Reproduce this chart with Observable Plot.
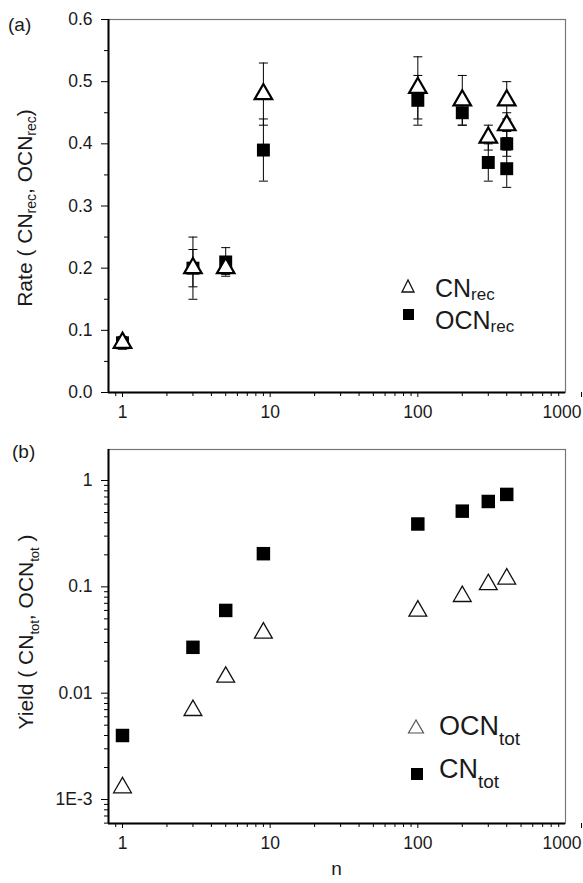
<!DOCTYPE html>
<html><head><meta charset="utf-8">
<script src="https://cdn.jsdelivr.net/npm/d3@7"></script>
<script src="https://cdn.jsdelivr.net/npm/@observablehq/plot@0.6"></script>
<style>
body{margin:0;background:#fff;}
#chart{width:583px;}
#chart svg{display:block;}
</style></head><body><div id="chart"></div>
<script>
// ---- Panel (a) data: rates ----
const nA = [1, 3, 5, 9, 100, 200, 300, 400, 400];
const cnRec = [0.08, 0.20, 0.20, 0.48, 0.49, 0.47, 0.41, 0.47, 0.43];
const cnRecErr = [0.01, 0.05, 0.01, 0.05, 0.05, 0.04, 0.02, 0.03, 0.02];
const ocnRec = [0.08, 0.20, 0.21, 0.39, 0.47, 0.45, 0.37, 0.40, 0.36];
const ocnRecErr = [0.01, 0.03, 0.023, 0.05, 0.04, 0.02, 0.03, 0.02, 0.03];

// ---- Panel (b) data: yields ----
const nB = [1, 3, 5, 9, 100, 200, 300, 400];
const ocnTot = [0.00135, 0.0072, 0.0148, 0.0385, 0.062, 0.085, 0.11, 0.124];
const cnTot = [0.0040, 0.027, 0.060, 0.205, 0.39, 0.515, 0.635, 0.74];

// ---- ticks ----
const xMajor = [1, 10, 100];
const xMajorLast = [1000];
const xMinor = [0.9, 2,3,4,5,6,7,8,9, 20,30,40,50,60,70,80,90, 200,300,400,500,600,700,800,900];
const yMajorA = [0, 0.1, 0.2, 0.3, 0.4, 0.5, 0.6];
const yMinorA = [0.05, 0.15, 0.25, 0.35, 0.45, 0.55];
const yMajorB = [0.001, 0.01, 0.1, 1];
const yMajorBLabels = ["1E-3", "0.01", "0.1", "1"];
const yMinorB = [0.0006,0.0007,0.0008,0.0009, 0.002,0.003,0.004,0.005,0.006,0.007,0.008,0.009,
  0.02,0.03,0.04,0.05,0.06,0.07,0.08,0.09, 0.2,0.3,0.4,0.5,0.6,0.7,0.8,0.9];

const rowsA = nA.map((n, i) => ({n, cn: cnRec[i], cnE: cnRecErr[i], ocn: ocnRec[i], ocnE: ocnRecErr[i]}));
const rowsB = nB.map((n, i) => ({n, ocn: ocnTot[i], cn: cnTot[i]}));

const FONT = "'Liberation Sans', Arial, Helvetica, sans-serif";
const W = 583;
const xDomain = [0.804, 1000];
const capSym = {draw(ctx) { ctx.moveTo(-4.5, 0); ctx.lineTo(4.5, 0); }};

function xAxes() {
  return [
    Plot.axisX(xMinor, {tickSize: 4, tickFormat: () => "", label: null, stroke: "black"}),
    Plot.axisX(xMajor, {tickSize: 5, tickPadding: 8, fontSize: 17.5, fill: "#1a1a1a", stroke: "black", tickFormat: d => String(d), label: null}),
    Plot.axisX(xMajorLast, {tickSize: 5, tickPadding: 8, fontSize: 17.5, fill: "#1a1a1a", stroke: "black", tickFormat: d => String(d), label: null, textAnchor: "end", dx: 16})
  ];
}

// ---------- Panel (a) ----------
const yDomA = [0, 0.6];
const plotA = Plot.plot({
  width: W, height: 432,
  marginLeft: 108, marginRight: 18, marginTop: 19, marginBottom: 40,
  style: {fontFamily: FONT, background: "white", overflow: "visible"},
  x: {type: "log", domain: xDomain},
  y: {domain: yDomA},
  marks: [
    Plot.frame({stroke: "#777", strokeWidth: 1.2}),
    Plot.ruleY([yDomA[0]], {stroke: "black", strokeWidth: 2}),
    Plot.ruleX([xDomain[0]], {stroke: "black", strokeWidth: 2}),
    ...xAxes(),
    Plot.axisY(yMinorA, {tickSize: 4, tickFormat: () => "", label: null, stroke: "black"}),
    Plot.axisY(yMajorA, {tickSize: 7, tickPadding: 9, fontSize: 17.5, fill: "#1a1a1a", stroke: "black", tickFormat: d => d.toFixed(1), label: null}),
    // error bars
    Plot.ruleX(rowsA, {x: "n", y1: d => d.ocn - d.ocnE, y2: d => d.ocn + d.ocnE, stroke: "black", strokeWidth: 1}),
    Plot.ruleX(rowsA, {x: "n", y1: d => d.cn - d.cnE, y2: d => d.cn + d.cnE, stroke: "black", strokeWidth: 1}),
    Plot.dot(rowsA, {x: "n", y: d => d.ocn + d.ocnE, symbol: capSym, fill: "none", stroke: "black", strokeWidth: 1}),
    Plot.dot(rowsA, {x: "n", y: d => d.ocn - d.ocnE, symbol: capSym, fill: "none", stroke: "black", strokeWidth: 1}),
    Plot.dot(rowsA, {x: "n", y: d => d.cn + d.cnE, symbol: capSym, fill: "none", stroke: "black", strokeWidth: 1}),
    Plot.dot(rowsA, {x: "n", y: d => d.cn - d.cnE, symbol: capSym, fill: "none", stroke: "black", strokeWidth: 1}),
    // markers
    Plot.dot(rowsA, {x: "n", y: "ocn", symbol: "square", r: 7.3, fill: "black", stroke: "none"}),
    Plot.dot(rowsA, {x: "n", y: "cn", symbol: "triangle", r: 6.5, fill: "white", stroke: "black", strokeWidth: 2.2})
  ]
});

// ---------- Panel (b) ----------
const yDomB = [0.000595, 1.957];
const plotB = Plot.plot({
  width: W, height: 451,
  marginLeft: 108, marginRight: 18, marginTop: 17, marginBottom: 60,
  style: {fontFamily: FONT, background: "white", overflow: "visible"},
  x: {type: "log", domain: xDomain},
  y: {type: "log", domain: yDomB},
  marks: [
    Plot.frame({stroke: "#777", strokeWidth: 1.2}),
    Plot.ruleY([yDomB[0]], {stroke: "black", strokeWidth: 2}),
    Plot.ruleX([xDomain[0]], {stroke: "black", strokeWidth: 2}),
    ...xAxes(),
    Plot.axisY(yMinorB, {tickSize: 4, tickFormat: () => "", label: null, stroke: "black"}),
    Plot.axisY(yMajorB, {tickSize: 7, tickPadding: 9, fontSize: 17.5, fill: "#1a1a1a", stroke: "black",
      tickFormat: d => yMajorBLabels[yMajorB.indexOf(d)], label: null}),
    Plot.dot(rowsB, {x: "n", y: "cn", symbol: "square", r: 7.6, fill: "black", stroke: "none"}),
    Plot.dot(rowsB, {x: "n", y: "ocn", symbol: "triangle", r: 6.6, fill: "white", stroke: "#111", strokeWidth: 1.3, dy: 2})
  ]
});

document.getElementById("chart").append(plotA, plotB);

// ---------- annotations (labels, titles, legends) ----------
function rich(svg, x, y, parts, opts = {}) {
  const t = d3.select(svg).append("text")
    .attr("font-family", FONT).attr("fill", "#1a1a1a")
    .attr("font-size", opts.size || 18)
    .attr("text-anchor", opts.anchor || "start");
  if (opts.rotate) t.attr("transform", `translate(${x},${y}) rotate(${opts.rotate})`);
  else t.attr("x", x).attr("y", y);
  let shift = 0;
  for (const [txt, sub, dy] of parts) {
    const s = t.append("tspan").text(txt);
    if (sub) {
      s.attr("font-size", sub).attr("dy", dy - shift);
      shift = dy;
    } else {
      s.attr("dy", -shift);
      shift = 0;
    }
  }
  return t;
}

// panel labels
rich(plotA, 8, 31, [["(a)"]], {size: 19});
rich(plotB, 12, 26, [["(b)"]], {size: 19});

// y titles
rich(plotA, 32, 208, [["Rate ( CN"], ["rec", 14, 4], [", OCN"], ["rec", 14, 4], [")"]], {size: 21, rotate: -90, anchor: "middle"});
rich(plotB, 33, 200, [["Yield ( CN"], ["tot", 13, 6], [", OCN"], ["tot", 13, 6], [" )"]], {size: 21, rotate: -90, anchor: "middle"});

// x title
rich(plotB, 336.5, 443, [["n"]], {size: 19, anchor: "middle"});

// legend (a)
d3.select(plotA).append("path").attr("d", "M408,280 L402,292 L414,292 Z").attr("fill", "none").attr("stroke", "#111").attr("stroke-width", 1.3);
d3.select(plotA).append("rect").attr("x", 403).attr("y", 309).attr("width", 11).attr("height", 11).attr("fill", "black");
rich(plotA, 435, 297, [["CN"], ["rec", 17, 3]], {size: 25});
rich(plotA, 435, 329, [["OCN"], ["rec", 17, 3]], {size: 25});

// legend (b)  (svg B starts at page y=432)
d3.select(plotB).append("path").attr("d", "M416,288 L408.5,301 L423.5,301 Z").attr("fill", "none").attr("stroke", "#555").attr("stroke-width", 1.2);
d3.select(plotB).append("rect").attr("x", 411).attr("y", 336).attr("width", 12).attr("height", 12).attr("fill", "black");
rich(plotB, 439, 303, [["OCN"], ["tot", 19, 10]], {size: 27});
rich(plotB, 439, 346, [["CN"], ["tot", 19, 10]], {size: 27});
</script></body></html>
